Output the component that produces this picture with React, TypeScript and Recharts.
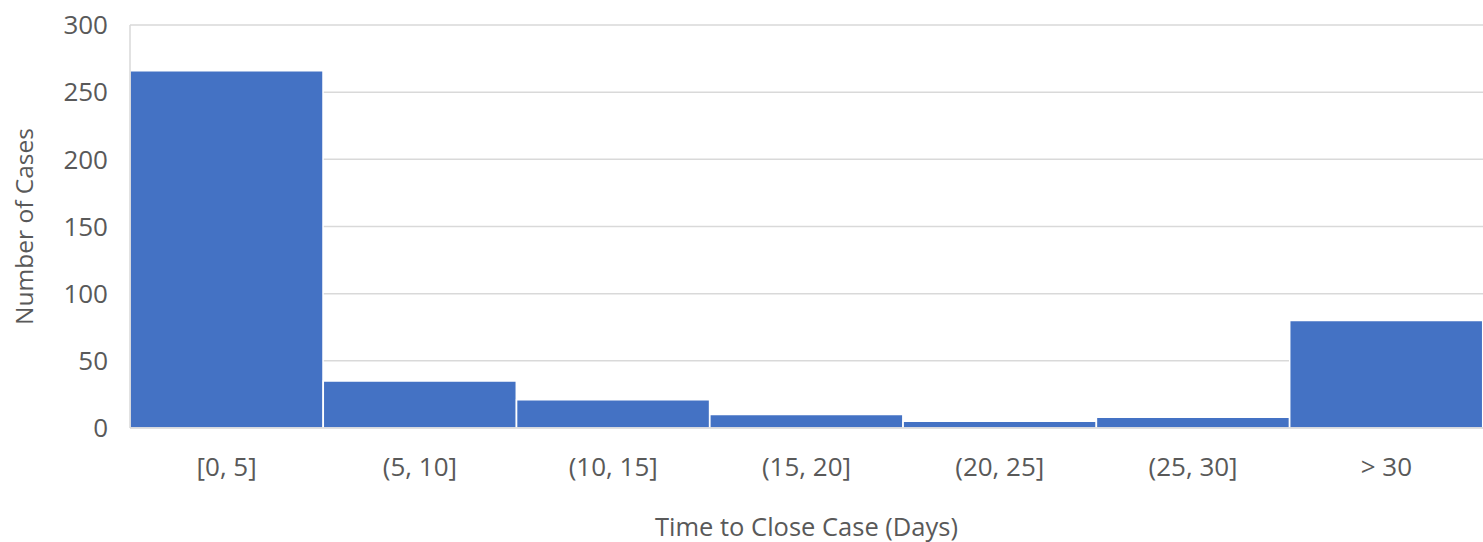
import { BarChart, Bar, XAxis, YAxis, CartesianGrid, Label } from "recharts";

const categories = ["[0, 5]", "(5, 10]", "(10, 15]", "(15, 20]", "(20, 25]", "(25, 30]", "> 30"];
const cases = [266, 35, 21, 10, 5, 8, 80];
const yTicks = [0, 50, 100, 150, 200, 250, 300];

const data = categories.map((name, i) => ({ name, cases: cases[i] }));

const FONT = "'Open Sans', Lato, sans-serif";
const TEXT = "#595959";

export default function App() {
  return (
    <div style={{ position: "absolute", left: 0, top: 0, background: "#fff" }}>
      <BarChart
        width={1483}
        height={542}
        data={data}
        barCategoryGap={0}
        margin={{ top: 25, right: 0, left: 0, bottom: 0 }}
      >
        <CartesianGrid vertical={false} stroke="#d9d9d9" strokeWidth={1.5} />
        <XAxis
          dataKey="name"
          height={114}
          tickLine={false}
          tickSize={0}
          tickMargin={30}
          axisLine={{ stroke: "#d9d9d9", strokeWidth: 1.5 }}
          tick={{ fontSize: 26, fill: TEXT, fontFamily: FONT }}
        >
          <Label
            value="Time to Close Case (Days)"
            position="insideBottom"
            offset={6}
            style={{ fontSize: 25.5, fill: TEXT, fontFamily: FONT }}
          />
        </XAxis>
        <YAxis
          width={130}
          domain={[0, 300]}
          ticks={yTicks}
          interval={0}
          tickLine={false}
          tickSize={0}
          tickMargin={22}
          axisLine={{ stroke: "#d9d9d9", strokeWidth: 1.5 }}
          tick={{ fontSize: 26, fill: TEXT, fontFamily: FONT }}
        >
          <Label
            value="Number of Cases"
            angle={-90}
            position="insideLeft"
            offset={24}
            style={{ fontSize: 24.5, fill: TEXT, fontFamily: FONT, textAnchor: "middle" }}
          />
        </YAxis>
        <Bar dataKey="cases" fill="#4472C4" stroke="#ffffff" strokeWidth={1.5} isAnimationActive={false} />
      </BarChart>
    </div>
  );
}
